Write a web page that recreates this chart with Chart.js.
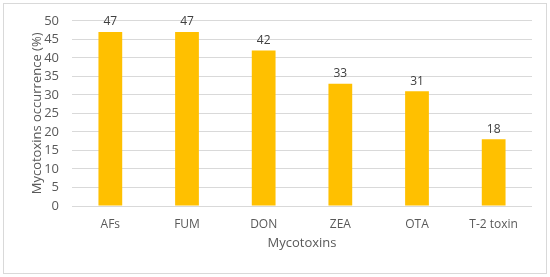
<!DOCTYPE html>
<html>
<head>
<meta charset="utf-8">
<script src="https://cdn.jsdelivr.net/npm/chart.js@4"></script>
<style>
  html, body { margin: 0; padding: 0; background: #fff; }
  #wrap { position: relative; width: 550px; height: 277px; }
  #frame { position: absolute; left: 3px; top: 3px; width: 542px; height: 269px; border: 1px solid #d9d9d9; }
  canvas { position: absolute; left: 0; top: 0; }
</style>
</head>
<body>
<div id="wrap">
  <div id="frame"></div>
  <canvas id="c" width="550" height="277"></canvas>
</div>
<script>
const labels = ['AFs', 'FUM', 'DON', 'ZEA', 'OTA', 'T-2 toxin'];
const occurrence = [47, 47, 42, 33, 31, 18];
const yTicks = [0, 5, 10, 15, 20, 25, 30, 35, 40, 45, 50];

const FONT = "'Open Sans', 'Liberation Sans', sans-serif";
const GREY = '#595959';

// values above bars
const barLabels = {
  id: 'barLabels',
  afterDatasetsDraw(chart) {
    const { ctx } = chart;
    const meta = chart.getDatasetMeta(0);
    ctx.save();
    ctx.font = '12px ' + FONT;
    ctx.fillStyle = '#404040';
    ctx.textAlign = 'center';
    ctx.textBaseline = 'bottom';
    meta.data.forEach((bar, i) => {
      ctx.fillText(String(occurrence[i]), bar.x, bar.y - 4);
    });
    ctx.restore();
  }
};

new Chart(document.getElementById('c'), {
  type: 'bar',
  data: {
    labels,
    datasets: [{
      label: 'Mycotoxins occurrence',
      data: occurrence,
      backgroundColor: '#FFC000',
      categoryPercentage: 1,
      barPercentage: 0.31
    }]
  },
  options: {
    responsive: false,
    animation: false,
    layout: { padding: { top: 19, right: 18, left: 0, bottom: 0 } },
    plugins: { legend: { display: false }, tooltip: { enabled: false } },
    scales: {
      x: {
        grid: { display: false },
        border: { display: false },
        ticks: { color: GREY, font: { family: FONT, size: 12 }, padding: 3 },
        title: { display: true, text: 'Mycotoxins', color: GREY, font: { family: FONT, size: 13 }, padding: { top: 0, bottom: 26 } },
        afterFit: (s) => { s.height = 71; }
      },
      y: {
        min: 0,
        max: 50,
        afterBuildTicks: (s) => { s.ticks = yTicks.map(v => ({ value: v })); },
        grid: { color: '#d9d9d9', drawTicks: false },
        border: { display: false },
        ticks: { color: GREY, font: { family: FONT, size: 13 }, padding: 13, autoSkip: false },
        title: { display: true, text: 'Mycotoxins occurrence (%)', color: GREY, font: { family: FONT, size: 13 }, padding: { top: 29, bottom: 0 } },
        afterFit: (s) => { s.width = 72; }
      }
    }
  },
  plugins: [barLabels]
});
</script>
</body>
</html>
